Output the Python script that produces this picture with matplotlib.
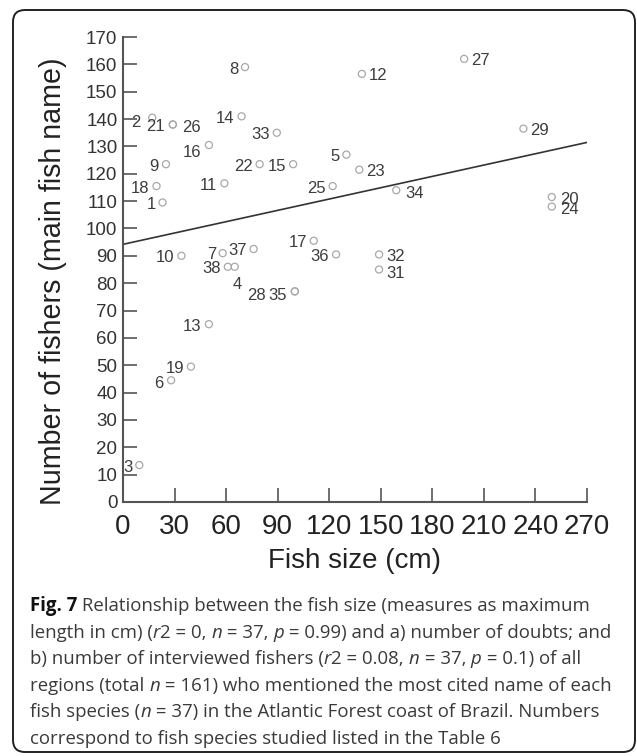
"""Fig. 7: fish size vs number of fishers citing the main name."""

import matplotlib

matplotlib.use("Agg")

import matplotlib.pyplot as plt
from matplotlib.patches import FancyBboxPatch
import numpy as np

# data
species = [1, 2, 3, 4, 5, 6, 7, 8, 9, 10, 11, 12, 13, 14, 15, 16, 17, 18, 19,
           20, 21, 22, 23, 24, 25, 26, 27, 28, 29, 31, 32, 33, 34, 35, 36, 37, 38]
fish_size = [23, 17, 9.5, 65, 130, 28, 58, 71, 25, 34, 59, 139, 50, 69, 99, 50,
             111, 19.5, 39.5, 249.5, 29, 79.5, 137.5, 249.5, 122, 29, 198.5, 100,
             233, 149, 149, 89.5, 159, 100, 124, 76, 61]
n_fishers = [109.5, 140.5, 13.5, 86, 127, 44.5, 91, 159, 123.5, 90, 116.5, 156.5,
             65, 141, 123.5, 130.5, 95.5, 115.5, 49.5, 111.5, 138, 123.5, 121.5,
             108, 115.5, 138, 162, 77, 136.5, 85, 90.5, 135, 114, 77, 90.5, 92.5,
             86]
fit_intercept = 94.2
fit_slope = 0.138

xticks = list(range(0, 271, 30))
yticks = list(range(0, 171, 10))

# label placement (pixels from point)
LEFT = (-7, -2)
RIGHT = (7, -2)
label_offset = {sp: LEFT for sp in species}
for sp in [12, 27, 29, 23, 34, 20, 24, 32, 31, 26]:
    label_offset[sp] = RIGHT
label_offset.update({
    2: (-12, -5), 21: (-8, -2), 26: (9, -3), 16: (-8, -7), 4: (3, -18),
    7: (-6, -1), 28: (-29, -4), 35: (-8, -4), 6: (-8, -3), 34: (9, -3),
    20: (8, -2), 24: (8, -3), 31: (7, -4), 13: (-8, -2),
})

CAPTION = [
    [("Fig. 7", "b"), (" Relationship between the fish size (measures as maximum", "n")],
    [("length in cm) (", "n"), ("r", "i"), ("2 = 0, ", "n"), ("n", "i"), (" = 37, ", "n"),
     ("p", "i"), (" = 0.99) and a) number of doubts; and", "n")],
    [("b) number of interviewed fishers (", "n"), ("r", "i"), ("2 = 0.08, ", "n"),
     ("n", "i"), (" = 37, ", "n"), ("p", "i"), (" = 0.1) of all", "n")],
    [("regions (total ", "n"), ("n", "i"), (" = 161) who mentioned the most cited name of each", "n")],
    [("fish species (", "n"), ("n", "i"), (" = 37) in the Atlantic Forest coast of Brazil. Numbers", "n")],
    [("correspond to fish species studied listed in the Table 6", "n")],
]


def draw_caption(fig, x0, y0, step, size):
    fig.canvas.draw()
    renderer = fig.canvas.get_renderer()
    for row, parts in enumerate(CAPTION):
        x = x0
        y = y0 - row * step
        for txt, style in parts:
            kw = dict(family="Open Sans", fontsize=size, color="#3a3a3a")
            if style == "b":
                kw.update(weight="bold", color="#111111")
            elif style == "i":
                kw.update(style="italic")
            t = fig.text(x / fig.bbox.width, y / fig.bbox.height, txt,
                         va="baseline", ha="left", **kw)
            x = t.get_window_extent(renderer).x1


def main() -> None:
    plt.rcParams["font.family"] = ["Liberation Sans", "DejaVu Sans"]
    fig = plt.figure(figsize=(6.37, 7.56), dpi=100)
    W, H = 637, 756
    ax = fig.add_axes([123 / W, 1 - 502 / H, 464 / W, 465 / H])

    ax.scatter(fish_size, n_fishers, s=26, facecolors="none", edgecolors="#a8a8a8",
               linewidths=0.9, zorder=3, clip_on=False)
    for sp, x, y in zip(species, fish_size, n_fishers):
        dx, dy = label_offset[sp]
        ax.annotate(str(sp), (x, y), xytext=(dx, dy), textcoords="offset pixels",
                    ha="right" if dx < 0 and sp != 4 else ("center" if sp == 4 else "left"),
                    va="center", fontsize=12, color="#3c3c3c", zorder=4)

    xs = np.array([0, 270])
    ax.plot(xs, fit_intercept + fit_slope * xs, color="#333333", lw=1.2, zorder=2)

    ax.set_xlim(0, 270)
    ax.set_ylim(0, 170)
    ax.set_xticks(xticks)
    ax.set_yticks(yticks)
    ax.tick_params(axis="both", direction="in", length=10, width=1.2, colors="#555555")
    ax.tick_params(axis="x", labelsize=20, pad=9, labelcolor="#222222")
    ax.tick_params(axis="y", labelsize=13.5, pad=4, labelcolor="#333333")
    for side in ["top", "right"]:
        ax.spines[side].set_visible(False)
    for side in ["left", "bottom"]:
        ax.spines[side].set_color("#555555")
        ax.spines[side].set_linewidth(1.5)

    fig.text(53 / W, 1 - 281 / H, "Number of fishers (main fish name)", rotation=90,
             ha="center", va="center", fontsize=20.6, color="#222222")
    fig.text(354 / W, 1 - 561 / H, "Fish size (cm)", ha="center", va="center",
             fontsize=20, color="#222222")

    box = FancyBboxPatch((0.13, 0.04), 6.22, 7.42, boxstyle="round,pad=0,rounding_size=0.12",
                         transform=fig.dpi_scale_trans, fill=False, edgecolor="#222222",
                         lw=1.4)
    fig.patches.append(box)

    draw_caption(fig, 30, H - 611, 26.6, 13.4)

    fig.savefig("out.png", dpi=100)
    plt.close(fig)


if __name__ == "__main__":
    main()
